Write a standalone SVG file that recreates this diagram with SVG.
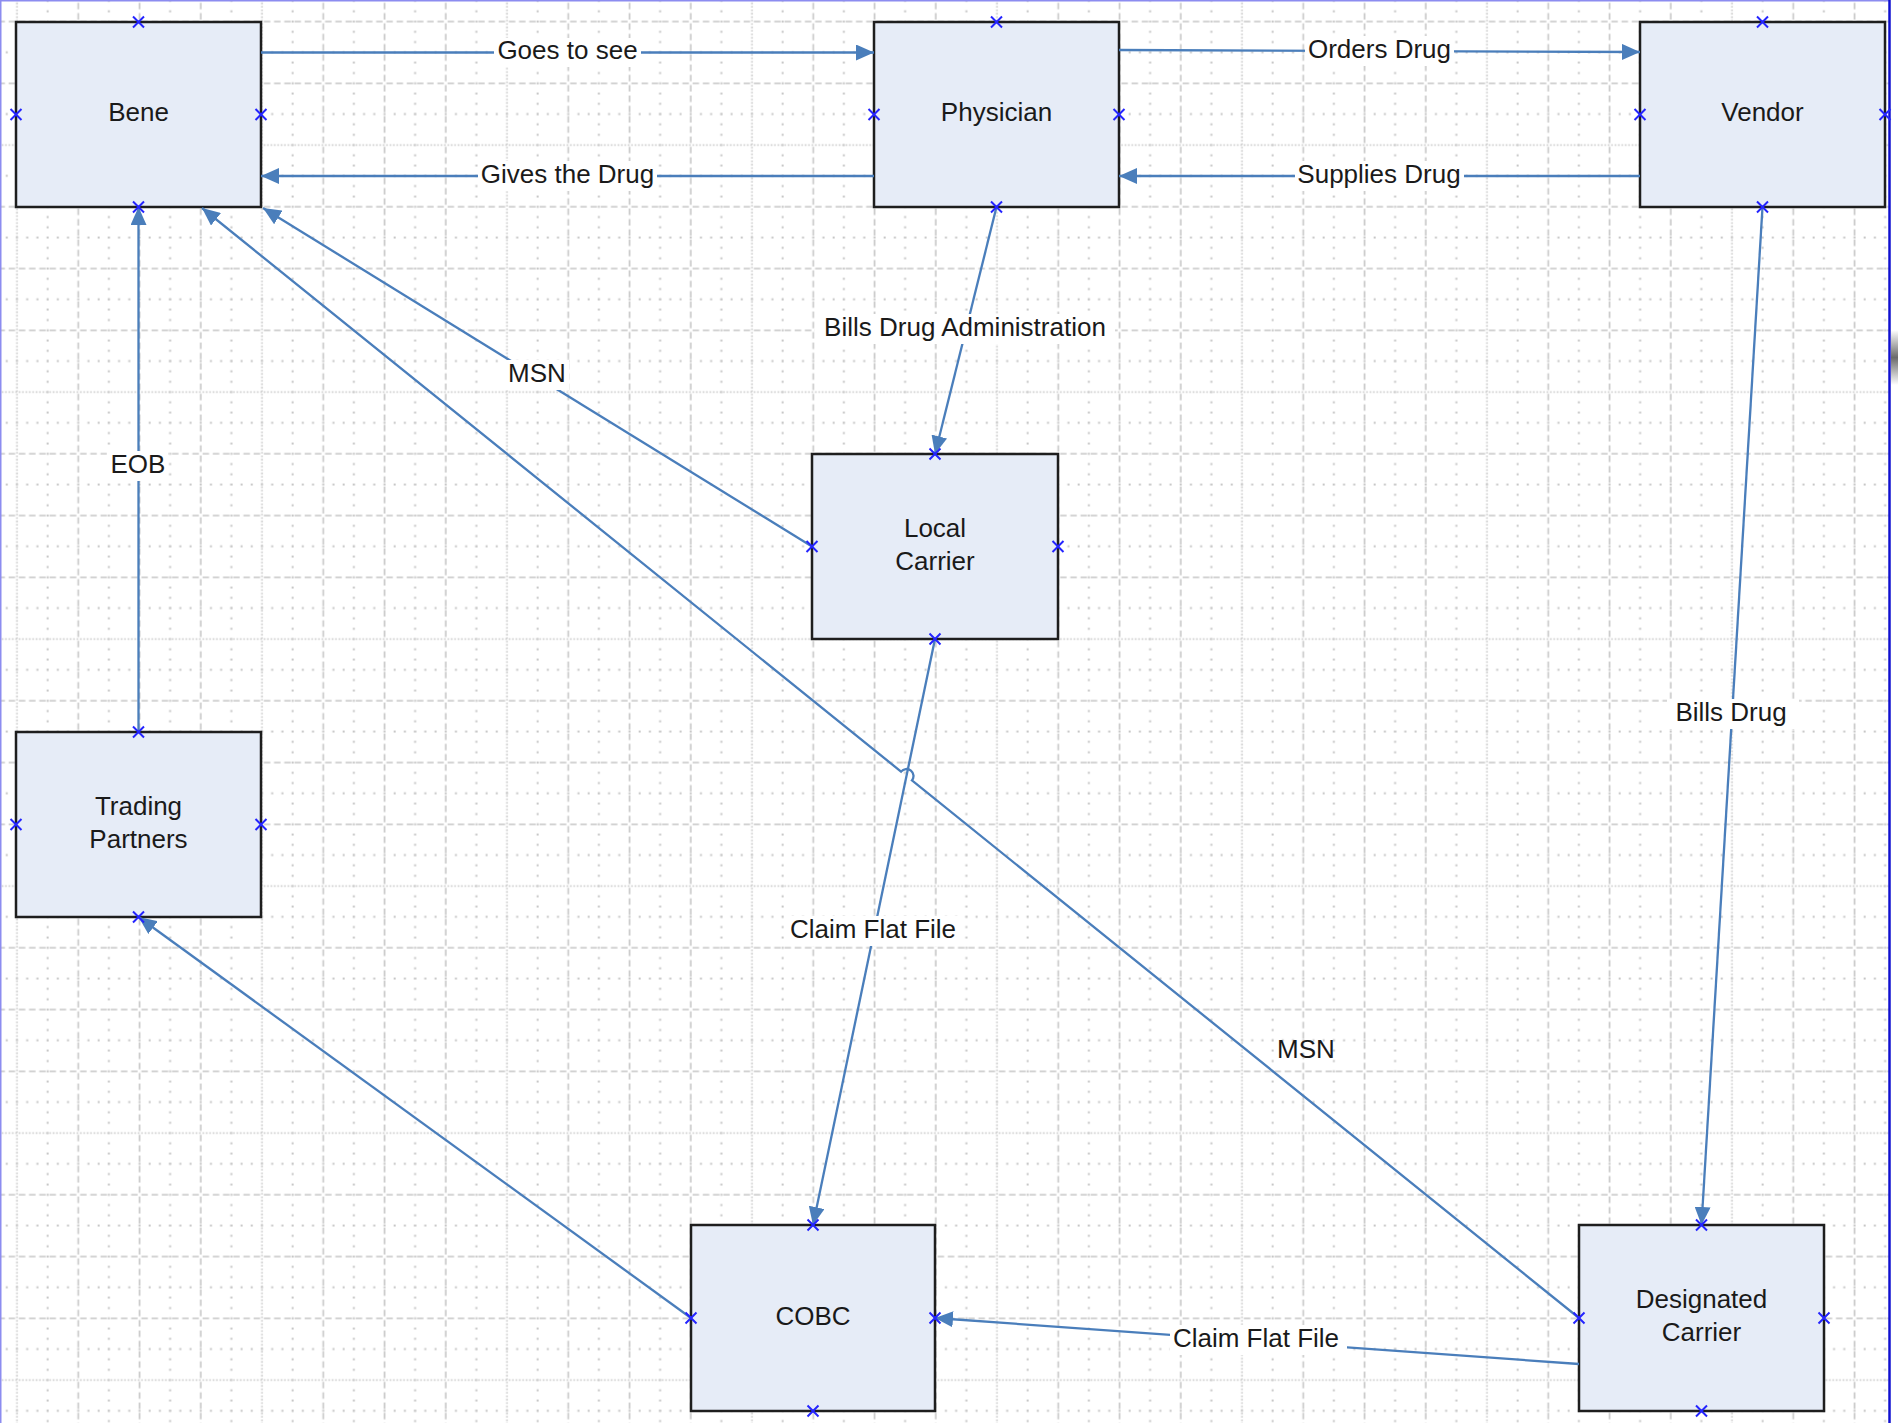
<svg xmlns="http://www.w3.org/2000/svg" width="1898" height="1423" viewBox="0 0 1898 1423">
<defs>
<style>
.box{fill:#e6ecf7;stroke:#1e1e1e;stroke-width:2.5}
.txt{font-family:"Liberation Sans",Arial,sans-serif;font-size:26px;fill:#1a1a1a;text-anchor:middle}
.con{fill:none;stroke:#4a7ebb;stroke-width:2.3;marker-end:url(#arr)}
.bg{fill:#ffffff}
.cp{fill:none;stroke:#2424ff;stroke-width:2}
.g{fill:none;stroke:#c6c6c6}
</style>
<marker id="arr" viewBox="0 0 18 16" refX="18" refY="8" markerWidth="18" markerHeight="16" orient="auto" markerUnits="userSpaceOnUse">
<path d="M0,0 L18,8 L0,16 z" fill="#4a7ebb"/>
</marker>
<path id="cx" d="M-5.5,-5.5 L5.5,5.5 M-5.5,5.5 L5.5,-5.5"/>
<pattern id="grid" patternUnits="userSpaceOnUse" x="1.6875" y="129.5625" width="245" height="247">
<path class="g" d="M0,46.3125H245M0,108.0625H245M0,169.8125H245M0,231.5625H245" stroke-width="2" stroke-dasharray="2 8.208" stroke-dashoffset="6.104"/>
<path class="g" d="M45.9375,0V247M107.1875,0V247M168.4375,0V247M229.6875,0V247" stroke-width="2" stroke-dasharray="2 8.292" stroke-dashoffset="6.146"/>
<path class="g" d="M0,77.1875H245M0,138.9375H245M0,200.6875H245" stroke-width="1.6" stroke-dasharray="6.5 3.708" stroke-dashoffset="3.25"/>
<path class="g" d="M76.5625,0V247M137.8125,0V247M199.0625,0V247" stroke-width="1.6" stroke-dasharray="6.5 3.792" stroke-dashoffset="3.25"/>
<path class="g" d="M0,15.4375H245" stroke-width="1.6" stroke-dasharray="1.6 1.8028"/>
<path class="g" d="M15.3125,0V247" stroke-width="1.6" stroke-dasharray="1.6 1.8306"/>
</pattern>
<linearGradient id="shade" x1="0" y1="0" x2="0" y2="1">
<stop offset="0" stop-color="#ffffff"/>
<stop offset="0.5" stop-color="#6a6a6a"/>
<stop offset="1" stop-color="#ffffff"/>
</linearGradient>
</defs>

<rect x="0" y="0" width="1898" height="1423" fill="#ffffff"/>
<rect x="0" y="0" width="1889" height="1423" fill="url(#grid)"/>
<g id="frame">
<line x1="0.75" y1="0" x2="0.75" y2="1423" stroke="#8c8cf0" stroke-width="1.5"/>
<line x1="0" y1="0.75" x2="1889" y2="0.75" stroke="#8c8cf0" stroke-width="1.5"/>
<line x1="1889.5" y1="0" x2="1889.5" y2="1423" stroke="#1010d0" stroke-width="2.5"/>
<rect x="1891" y="330" width="7" height="55" fill="url(#shade)"/>
</g>

<g id="node-bene">
<rect class="box" x="16" y="22" width="245" height="185"/>
<text class="txt" x="138.5" y="121">Bene</text>
</g>
<g id="node-physician">
<rect class="box" x="874" y="22" width="245" height="185"/>
<text class="txt" x="996.5" y="121">Physician</text>
</g>
<g id="node-vendor">
<rect class="box" x="1640" y="22" width="245" height="185"/>
<text class="txt" x="1762.5" y="121">Vendor</text>
</g>
<g id="node-local-carrier">
<rect class="box" x="812" y="454" width="246" height="185"/>
<text class="txt" x="935" y="536.5">Local</text>
<text class="txt" x="935" y="569.5">Carrier</text>
</g>
<g id="node-trading-partners">
<rect class="box" x="16" y="732" width="245" height="185"/>
<text class="txt" x="138.5" y="814.5">Trading</text>
<text class="txt" x="138.5" y="847.5">Partners</text>
</g>
<g id="node-cobc">
<rect class="box" x="691" y="1225" width="244" height="186"/>
<text class="txt" x="813" y="1324.5">COBC</text>
</g>
<g id="node-designated-carrier">
<rect class="box" x="1579" y="1225" width="245" height="186"/>
<text class="txt" x="1701.5" y="1307.5">Designated</text>
<text class="txt" x="1701.5" y="1340.5">Carrier</text>
</g>

<g id="connectors">
<path class="con" d="M261,52.5 L874,52.5"/>
<path class="con" d="M874,176 L261,176"/>
<path class="con" d="M1119,50 L1640,52"/>
<path class="con" d="M1640,176 L1119,176"/>
<path class="con" d="M996.5,207 L935,454"/>
<path class="con" d="M812,546.5 L263,208"/>
<path class="con" d="M1579,1318 L911.95,780.4 A7,7 0 0 0 901.05,771.6 L202,208"/>
<path class="con" d="M935,639 L813,1225"/>
<path class="con" d="M1762.5,207 L1701.5,1225"/>
<path class="con" d="M1579,1364 L935,1318"/>
<path class="con" d="M691,1318 L138.5,917"/>
<path class="con" d="M138.5,732 L138.5,207"/>

<rect class="bg" x="494" y="38" width="147" height="29"/>
<text class="txt" x="567.5" y="59">Goes to see</text>
<rect class="bg" x="478" y="161" width="179" height="30"/>
<text class="txt" x="567.5" y="182.5">Gives the Drug</text>
<rect class="bg" x="1305" y="36" width="149" height="30"/>
<text class="txt" x="1379.5" y="57.5">Orders Drug</text>
<rect class="bg" x="1295" y="161" width="169" height="30"/>
<text class="txt" x="1379" y="182.5">Supplies Drug</text>
<rect class="bg" x="815" y="314" width="300" height="30"/>
<text class="txt" x="965" y="335.5">Bills Drug Administration</text>
<rect class="bg" x="505" y="360" width="64" height="30"/>
<text class="txt" x="537" y="381.5">MSN</text>
<text class="txt" x="1306" y="1057.5">MSN</text>
<rect class="bg" x="107" y="451" width="61" height="30"/>
<text class="txt" x="138" y="472.5">EOB</text>
<rect class="bg" x="787" y="916" width="177" height="30"/>
<text class="txt" x="873" y="937.5">Claim Flat File</text>
<rect class="bg" x="1667" y="699" width="132" height="30"/>
<text class="txt" x="1731" y="720.5">Bills Drug</text>
<rect class="bg" x="1170" y="1325" width="177" height="30"/>
<text class="txt" x="1256" y="1346.5">Claim Flat File</text>
</g>

<g id="connection-points" class="cp">
<use href="#cx" x="138.5" y="22"/><use href="#cx" x="16" y="114.5"/><use href="#cx" x="261" y="114.5"/><use href="#cx" x="138.5" y="207"/>
<use href="#cx" x="996.5" y="22"/><use href="#cx" x="874" y="114.5"/><use href="#cx" x="1119" y="114.5"/><use href="#cx" x="996.5" y="207"/>
<use href="#cx" x="1762.5" y="22"/><use href="#cx" x="1640" y="114.5"/><use href="#cx" x="1885" y="114.5"/><use href="#cx" x="1762.5" y="207"/>
<use href="#cx" x="935" y="454"/><use href="#cx" x="812" y="546.5"/><use href="#cx" x="1058" y="546.5"/><use href="#cx" x="935" y="639"/>
<use href="#cx" x="138.5" y="732"/><use href="#cx" x="16" y="824.5"/><use href="#cx" x="261" y="824.5"/><use href="#cx" x="138.5" y="917"/>
<use href="#cx" x="813" y="1225"/><use href="#cx" x="691" y="1318"/><use href="#cx" x="935" y="1318"/><use href="#cx" x="813" y="1411"/>
<use href="#cx" x="1701.5" y="1225"/><use href="#cx" x="1579" y="1318"/><use href="#cx" x="1824" y="1318"/><use href="#cx" x="1701.5" y="1411"/>
</g>
</svg>
